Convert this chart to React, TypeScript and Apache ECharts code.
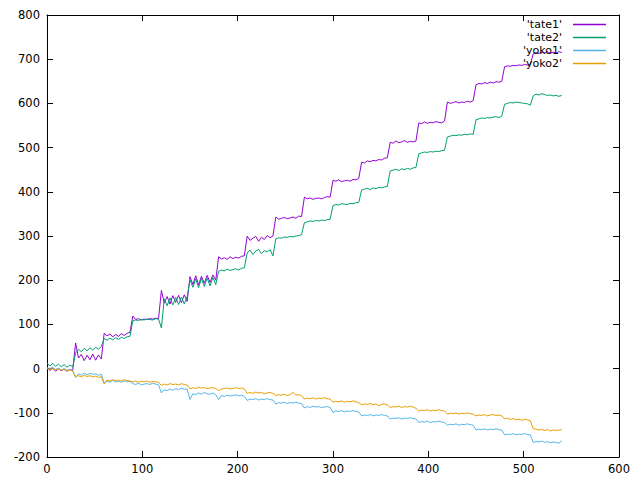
import React, { useEffect, useRef } from "react";
import * as echarts from "echarts";

// sampled every STEP frames (x = 0, 3, 6, ..., 540)
const STEP = 3;
const seriesNames = ["'tate1'", "'tate2'", "'yoko1'", "'yoko2'"];
const colors = ["#9400d3", "#009e73", "#56b4e9", "#e69f00"];
const xTicks = { min: 0, max: 600, interval: 100 };
const yTicks = { min: -200, max: 800, interval: 100 };

const tate1 = [
  2, -4, 1, -6, 0, -5, -1, -6, -2, -4,
  58, 24, 32, 18, 30, 20, 33, 19, 31, 22,
  80, 74, 78, 72, 77, 73, 79, 75, 80, 82,
  119, 111, 113, 110, 112, 111, 113, 112, 114, 113,
  177, 148, 163, 146, 165, 150, 166, 149, 167, 152,
  208, 190, 210, 189, 209, 193, 211, 195, 212, 200,
  253, 248, 251, 247, 253, 249, 252, 250, 254, 255,
  300, 290, 295, 299, 288, 297, 292, 301, 296, 300,
  343, 338, 340, 342, 339, 341, 343, 340, 345, 344,
  388, 384, 386, 383, 385, 386, 384, 387, 389, 388,
  426, 424, 427, 423, 425, 426, 424, 428, 427, 430,
  467, 465, 470, 468, 471, 470, 473, 472, 476, 477,
  512, 510, 515, 511, 513, 516, 512, 514, 513, 515,
  556, 554, 558, 555, 557, 556, 559, 557, 556, 560,
  603, 600, 602, 604, 601, 603, 602, 605, 603, 606,
  642, 645, 644, 647, 645, 648, 646, 649, 648, 650,
  683, 685, 684, 686, 685, 687, 686, 688, 687, 689,
  712, 715, 713, 716, 714, 717, 713, 716, 714, 717, 715,
];

const tate2 = [
  13, 6, 12, 5, 10, 4, 9, 3, 8, 4,
  35, 44, 38, 46, 40, 47, 42, 48, 44, 50,
  68, 64, 69, 65, 70, 66, 71, 68, 72, 73,
  108, 110, 109, 111, 110, 112, 111, 110, 113, 112,
  92, 158, 142, 160, 144, 161, 145, 162, 146, 163,
  200, 184, 203, 183, 204, 186, 205, 187, 206, 190,
  220, 223, 221, 225, 222, 224, 226, 223, 227, 228,
  262, 268, 258, 266, 270, 260, 267, 264, 269, 255,
  294, 296, 295, 298, 297, 299, 298, 300, 301, 303,
  330, 332, 334, 333, 335, 334, 336, 335, 337, 338,
  369, 371, 370, 373, 372, 371, 374, 373, 375, 376,
  404, 406, 408, 405, 409, 407, 410, 409, 411, 412,
  447, 449, 451, 448, 452, 450, 453, 451, 454, 455,
  486, 488, 490, 489, 491, 490, 492, 491, 493, 494,
  524, 526, 528, 527, 529, 528, 530, 529, 531, 530,
  563, 565, 567, 566, 568, 567, 569, 570, 568, 571,
  598, 600, 602, 601, 603, 602, 601, 600, 599, 596,
  617, 621, 619, 622, 620, 618, 619, 617, 618, 616, 618,
];

const yoko1 = [
  2, 0, 3, -2, 1, -3, 0, -4, -2, -5,
  -20, -12, -15, -10, -14, -11, -13, -12, -15, -13,
  -33, -28, -31, -27, -30, -29, -31, -28, -30, -29,
  -34, -36, -33, -37, -35, -34, -36, -33, -35, -37,
  -55, -48, -50, -46, -49, -45, -48, -44, -47, -46,
  -70, -57, -59, -55, -58, -54, -57, -58, -55, -59,
  -70, -61, -63, -60, -62, -61, -59, -62, -60, -63,
  -72, -69, -70, -68, -71, -69, -70, -68, -70, -71,
  -80, -77, -78, -76, -79, -77, -78, -76, -78, -79,
  -89, -86, -88, -85, -87, -86, -88, -87, -86, -88,
  -99, -96, -97, -95, -98, -96, -97, -95, -97, -98,
  -107, -105, -106, -104, -107, -105, -106, -104, -106, -107,
  -114, -112, -113, -111, -114, -112, -113, -111, -113, -114,
  -122, -120, -121, -119, -122, -120, -121, -119, -121, -122,
  -128, -126, -127, -125, -128, -126, -127, -125, -127, -128,
  -139, -137, -138, -136, -139, -137, -138, -136, -138, -139,
  -150, -148, -149, -147, -150, -148, -149, -147, -149, -150,
  -167, -165, -166, -164, -167, -165, -168, -166, -167, -169, -163,
];

const yoko2 = [
  0, -2, 1, -3, -1, -4, -2, -5, -3, -6,
  -18, -16, -19, -15, -18, -16, -19, -17, -20, -18,
  -35, -26, -28, -25, -27, -26, -28, -25, -27, -28,
  -30, -28, -31, -29, -30, -28, -31, -29, -30, -31,
  -38, -35, -37, -34, -36, -35, -37, -34, -36, -37,
  -46, -43, -45, -42, -44, -43, -45, -44, -43, -45,
  -50, -46, -45, -44, -46, -45, -43, -45, -44, -46,
  -56, -54, -56, -53, -55, -54, -57, -55, -54, -56,
  -61, -59, -60, -58, -61, -59, -54, -60, -59, -61,
  -69, -67, -68, -66, -69, -67, -68, -66, -68, -69,
  -76, -74, -75, -73, -76, -74, -75, -73, -75, -77,
  -82, -80, -81, -79, -82, -80, -84, -81, -80, -82,
  -88, -86, -87, -85, -88, -86, -87, -85, -87, -90,
  -96, -94, -95, -93, -96, -94, -95, -93, -95, -96,
  -103, -101, -102, -100, -103, -101, -102, -100, -102, -103,
  -107, -105, -106, -104, -107, -105, -104, -106, -105, -107,
  -114, -112, -115, -113, -116, -114, -117, -115, -116, -118,
  -136, -137, -139, -138, -140, -138, -141, -139, -140, -139, -138,
];

const allSeries = [tate1, tate2, yoko1, yoko2];

const FONT = "DejaVu Sans";

function toPairs(values: number[]) {
  return values.map((v, i) => [i * STEP, v]);
}

const axisLine = { show: true, onZero: false, lineStyle: { color: "#000", width: 1 } };
const axisTick = { show: true, inside: true, length: 6, lineStyle: { color: "#000", width: 1 } };

export default function App() {
  const ref = useRef<HTMLDivElement>(null);

  useEffect(() => {
    if (!ref.current) return;
    const chart = echarts.init(ref.current, null, { renderer: "svg" });
    chart.setOption({
      animation: false,
      backgroundColor: "#fff",
      grid: { left: 47, right: 21, top: 15, bottom: 23, containLabel: false },
      xAxis: [
        {
          type: "value",
          position: "bottom",
          ...xTicks,
          axisLine,
          axisTick,
          splitLine: { show: false },
          axisLabel: { color: "#000", fontFamily: FONT, fontSize: 11.5, margin: 6 },
        },
        {
          type: "value",
          position: "top",
          ...xTicks,
          axisLine,
          axisTick,
          splitLine: { show: false },
          axisLabel: { show: false },
        },
      ],
      yAxis: [
        {
          type: "value",
          position: "left",
          ...yTicks,
          axisLine,
          axisTick,
          splitLine: { show: false },
          axisLabel: { color: "#000", fontFamily: FONT, fontSize: 11.5, margin: 7 },
        },
        {
          type: "value",
          position: "right",
          ...yTicks,
          axisLine,
          axisTick,
          splitLine: { show: false },
          axisLabel: { show: false },
        },
      ],
      legend: {
        orient: "vertical",
        right: 34,
        top: 18,
        padding: 0,
        align: "right",
        selectedMode: false,
        icon: "rect",
        itemWidth: 33,
        itemHeight: 1.5,
        itemGap: 0,
        data: seriesNames,
        textStyle: {
          color: "#000",
          fontFamily: FONT,
          fontSize: 11,
          lineHeight: 13,
          width: 50,
          align: "right",
          padding: [0, 6, 0, 0],
        },
      },
      series: allSeries.map((values, i) => ({
        name: seriesNames[i],
        type: "line",
        xAxisIndex: 0,
        yAxisIndex: 0,
        data: toPairs(values),
        symbol: "none",
        showSymbol: false,
        color: colors[i],
        lineStyle: { color: colors[i], width: 1 },
        emphasis: { disabled: true },
        z: 2 + i,
      })),
    });
    return () => chart.dispose();
  }, []);

  return (
    <div
      ref={ref}
      style={{ position: "fixed", left: 0, top: 0, width: 640, height: 480 }}
    />
  );
}
